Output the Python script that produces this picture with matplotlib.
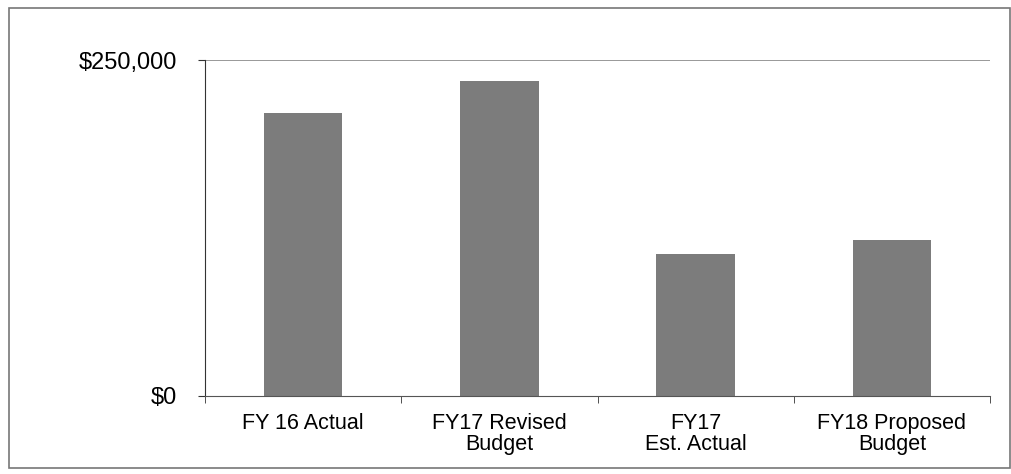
import matplotlib.pyplot as plt
from matplotlib.patches import Rectangle
from matplotlib.ticker import FuncFormatter

plt.rcParams['font.family'] = ['Liberation Sans', 'DejaVu Sans']

# Categorias y montos
categorias = ['FY 16 Actual', 'FY17 Revised\nBudget', 'FY17\nEst. Actual', 'FY18 Proposed\nBudget']
montos = [210500, 234400, 105700, 116000]

fig = plt.figure(figsize=(10.12, 4.74), dpi=100)
ax = fig.add_axes([0.2026, 0.1646, 0.7757, 0.7088])

x = range(len(categorias))
ax.bar(x, montos, width=0.4, color='#7c7c7c')

ax.set_xlim(-0.5, len(categorias) - 0.5)
ax.set_ylim(0, 250000)
ax.set_yticks([0, 250000])
ax.yaxis.set_major_formatter(FuncFormatter(lambda v, p: '${:,.0f}'.format(v)))

# Etiquetas centradas, marcas entre categorias
ax.set_xticks(list(x))
ax.set_xticklabels(categorias, linespacing=1.05)
ax.set_xticks([i - 0.5 for i in range(len(categorias) + 1)], minor=True)
ax.tick_params(axis='x', which='major', length=0, pad=12, labelsize=15.5)
ax.tick_params(axis='x', which='minor', length=5, direction='out', color='#333333')
ax.tick_params(axis='y', length=5, direction='out', color='#333333', labelsize=17, pad=15)

ax.axhline(250000, color='#888888', linewidth=1.2)
ax.spines['top'].set_visible(False)
ax.spines['right'].set_visible(False)
ax.spines['left'].set_color('#333333')
ax.spines['bottom'].set_color('#555555')

# Marco exterior del grafico
fig.patches.append(Rectangle((9 / 1012, 6 / 474), 1001 / 1012, 460 / 474,
                             transform=fig.transFigure, fill=False,
                             edgecolor='#777777', linewidth=1.2))

plt.savefig('out.png')
